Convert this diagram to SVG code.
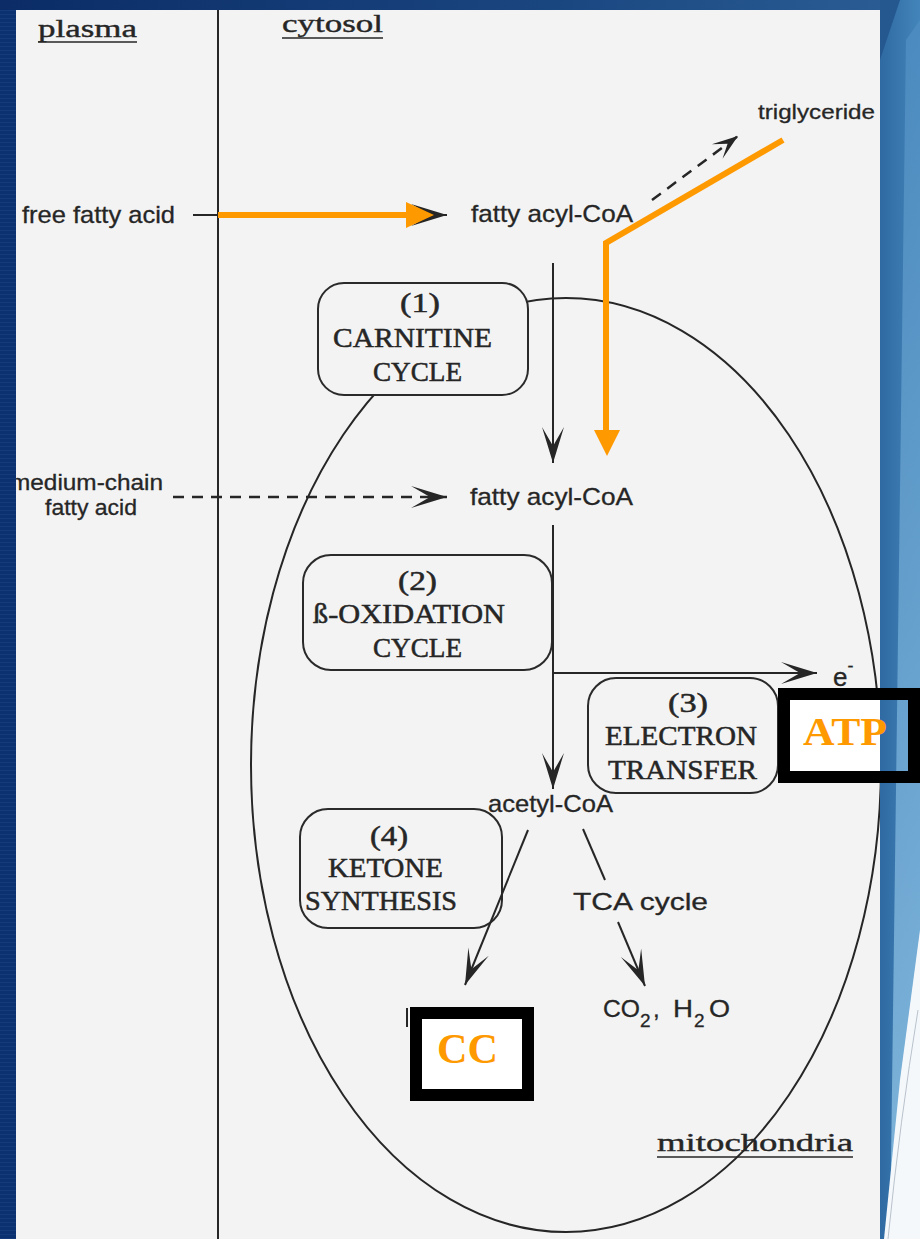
<svg xmlns="http://www.w3.org/2000/svg" width="920" height="1239" viewBox="0 0 920 1239">
<style>
.sans{font-family:"Liberation Sans",Arial,sans-serif;font-size:24px;fill:#262626;stroke:#262626;stroke-width:0.3}
.serif{font-family:"Liberation Serif","Times New Roman",serif;font-size:27px;fill:#262626;stroke:#262626;stroke-width:0.5}
.hdr{font-family:"Liberation Serif","Times New Roman",serif;font-size:26px;fill:#262626;stroke:#262626;stroke-width:0.4}
.box{fill:#f3f3f3;stroke:#2a2a2a;stroke-width:2}
.ln{fill:none;stroke:#262626;stroke-width:2}
.dash{fill:none;stroke:#262626;stroke-width:2.5;stroke-dasharray:11 8}
.or{fill:none;stroke:#FF9900;stroke-width:6}
.orf{fill:#FF9900}
.frame{fill:#ffffff;stroke:#000;stroke-width:12}
.big{font-family:"Liberation Serif","Times New Roman",serif;font-weight:bold;fill:#FF9900}
</style>
<defs>
<linearGradient id="topg" x1="0" y1="0" x2="1" y2="0">
<stop offset="0" stop-color="#0b2c66"/>
<stop offset="0.6" stop-color="#1a4680"/>
<stop offset="1" stop-color="#2c5f96"/>
</linearGradient>
<linearGradient id="rg" x1="0" y1="0" x2="1" y2="0">
<stop offset="0" stop-color="#2f6aa2"/>
<stop offset="1" stop-color="#4385ba"/>
</linearGradient>
<linearGradient id="lg" x1="0" y1="0" x2="0" y2="1">
<stop offset="0" stop-color="#4d8cc0"/>
<stop offset="1" stop-color="#8cc0e3"/>
</linearGradient>
<pattern id="stripe" width="16" height="4" patternUnits="userSpaceOnUse">
<rect width="16" height="4" fill="#0c3170"/>
<rect y="2" width="16" height="1" fill="#153b7b"/>
</pattern>
<marker id="ah" viewBox="-40 -14 42 28" refX="0" refY="0" markerWidth="42" markerHeight="28" markerUnits="userSpaceOnUse" orient="auto">
<path d="M0,0 L-36,-11 L-17,0 L-36,11 Z" fill="#262626"/>
</marker>
<marker id="ah2" viewBox="-30 -11 32 22" refX="0" refY="0" markerWidth="32" markerHeight="22" markerUnits="userSpaceOnUse" orient="auto">
<path d="M0,0 L-26,-9 L-13,0 L-26,9 Z" fill="#262626"/>
</marker>
</defs>

<!-- background frame -->
<rect x="0" y="0" width="920" height="1239" fill="url(#topg)"/>
<rect x="16" y="10" width="864" height="1229" fill="#f3f3f3"/>

<!-- compartments -->
<g id="compartments">
<line class="ln" x1="218" y1="10" x2="218" y2="1239"/>
<text class="hdr" x="38" y="37" textLength="99" lengthAdjust="spacingAndGlyphs">plasma</text>
<line x1="38" y1="42" x2="137" y2="42" stroke="#262626" stroke-width="1.5"/>
<text class="hdr" x="282" y="32" textLength="101" lengthAdjust="spacingAndGlyphs">cytosol</text>
<line x1="282" y1="38" x2="383" y2="38" stroke="#262626" stroke-width="1.5"/>
</g>

<g id="mitochondria">
<ellipse cx="566" cy="765" rx="315" ry="467" class="ln"/>
<text class="hdr" x="657" y="1151" textLength="196" lengthAdjust="spacingAndGlyphs">mitochondria</text>
<line x1="657" y1="1157" x2="853" y2="1157" stroke="#262626" stroke-width="1.5"/>
</g>

<g id="carnitine-cycle">
<rect class="box" x="318" y="283" width="210" height="112" rx="26"/>
<text class="serif" x="400" y="312" textLength="40" lengthAdjust="spacingAndGlyphs">(1)</text>
<text class="serif" x="333" y="347" textLength="159" lengthAdjust="spacingAndGlyphs">CARNITINE</text>
<text class="serif" x="373" y="381" textLength="89" lengthAdjust="spacingAndGlyphs">CYCLE</text>
</g>

<g id="beta-oxidation">
<rect class="box" x="303" y="555" width="249" height="115" rx="28"/>
<text class="serif" x="398" y="590" textLength="39" lengthAdjust="spacingAndGlyphs">(2)</text>
<text class="serif" x="313" y="623" textLength="192" lengthAdjust="spacingAndGlyphs">ß-OXIDATION</text>
<text class="serif" x="373" y="657" textLength="89" lengthAdjust="spacingAndGlyphs">CYCLE</text>
</g>

<g id="electron-transfer">
<rect class="box" x="588" y="678" width="190" height="115" rx="28"/>
<text class="serif" x="668" y="712" textLength="40" lengthAdjust="spacingAndGlyphs">(3)</text>
<text class="serif" x="605" y="745" textLength="152" lengthAdjust="spacingAndGlyphs">ELECTRON</text>
<text class="serif" x="608" y="779" textLength="149" lengthAdjust="spacingAndGlyphs">TRANSFER</text>
</g>

<g id="ketone-synthesis">
<rect class="box" x="300" y="809" width="202" height="119" rx="28"/>
<text class="serif" x="370" y="845" textLength="38" lengthAdjust="spacingAndGlyphs">(4)</text>
<text class="serif" x="328" y="877" textLength="115" lengthAdjust="spacingAndGlyphs">KETONE</text>
<text class="serif" x="305" y="910" textLength="152" lengthAdjust="spacingAndGlyphs">SYNTHESIS</text>
</g>

<g id="free-fatty-acid">
<text class="sans" x="22" y="223" textLength="153" lengthAdjust="spacingAndGlyphs">free fatty acid</text>
</g>
<g id="fatty-acyl-coa-cytosol">
<text class="sans" x="471" y="222" textLength="162" lengthAdjust="spacingAndGlyphs">fatty acyl-CoA</text>
</g>
<g id="triglyceride">
<text class="sans" x="758" y="119" textLength="117" lengthAdjust="spacingAndGlyphs" style="font-size:21px">triglyceride</text>
</g>
<g id="medium-chain-fatty-acid">
<text class="sans" x="10" y="490" textLength="153" lengthAdjust="spacingAndGlyphs" style="font-size:22px">medium-chain</text>
<text class="sans" x="45" y="515" textLength="92" lengthAdjust="spacingAndGlyphs" style="font-size:22px">fatty acid</text>
</g>
<g id="fatty-acyl-coa-mito">
<text class="sans" x="470" y="505" textLength="163" lengthAdjust="spacingAndGlyphs">fatty acyl-CoA</text>
</g>
<g id="electrons">
<text class="sans" x="833" y="686" style="font-size:26px">e<tspan dy="-14" font-size="18">-</tspan></text>
</g>
<g id="acetyl-coa">
<text class="sans" x="488" y="812" textLength="125" lengthAdjust="spacingAndGlyphs">acetyl-CoA</text>
</g>
<g id="tca-cycle">
<text class="sans" x="573" y="910" textLength="135" lengthAdjust="spacingAndGlyphs">TCA cycle</text>
</g>
<g id="co2-h2o">
<text class="sans" x="603" y="1017" textLength="37" lengthAdjust="spacingAndGlyphs">CO</text>
<text class="sans" x="640" y="1027" style="font-size:19px">2</text>
<text class="sans" x="653" y="1017">,</text>
<text class="sans" x="673" y="1017" textLength="20" lengthAdjust="spacingAndGlyphs">H</text>
<text class="sans" x="694" y="1027" style="font-size:19px">2</text>
<text class="sans" x="709" y="1017" textLength="21" lengthAdjust="spacingAndGlyphs">O</text>
</g>

<g id="connectors">
<line class="ln" x1="193" y1="215" x2="447" y2="215" marker-end="url(#ah)"/>
<line class="dash" x1="652" y1="200" x2="738" y2="136" marker-end="url(#ah2)"/>
<line class="ln" x1="553" y1="263" x2="553" y2="463" marker-end="url(#ah)"/>
<line class="dash" x1="173" y1="497" x2="447" y2="497" marker-end="url(#ah)"/>
<line class="ln" x1="553" y1="525" x2="553" y2="789" marker-end="url(#ah)"/>
<line class="ln" x1="553" y1="673" x2="817" y2="673" marker-end="url(#ah)"/>
<line class="ln" x1="528" y1="830" x2="465" y2="985" marker-end="url(#ah)"/>
<line class="ln" x1="583" y1="829" x2="605" y2="880"/>
<line class="ln" x1="618" y1="922" x2="645" y2="986" marker-end="url(#ah)"/>
<line x1="407" y1="1008" x2="407" y2="1027" stroke="#262626" stroke-width="2"/>
<!-- orange highlight arrows -->
<line class="or" x1="218" y1="215" x2="410" y2="215"/>
<polygon class="orf" points="406,202 434,215 406,228"/>
<polyline class="or" points="783,140 606,243 606,432"/>
<polygon class="orf" points="594,430 620,430 607,456"/>
</g>

<!-- slide decoration -->
<rect x="0" y="10" width="16" height="1229" fill="url(#stripe)"/>
<rect x="784" y="694" width="130" height="83" fill="#ffffff"/>
<rect x="880" y="0" width="40" height="1239" fill="url(#rg)"/>
<polygon points="880,0 900,0 880,60" fill="#24588f"/>
<polygon points="906,40 920,20 920,1000 896,1239 890,1239" fill="url(#lg)" opacity="0.85"/>
<polygon points="920,930 920,1239 884,1239 900,1080" fill="#f5f8fb"/>
<path d="M918,1010 Q900,1120 888,1239" fill="none" stroke="#b8c2cc" stroke-width="1"/>

<g id="atp-label">
<rect x="784" y="694" width="130" height="83" fill="none" stroke="#000" stroke-width="12"/>
<text class="big" x="803" y="745" textLength="84" lengthAdjust="spacingAndGlyphs" style="font-size:40px">ATP</text>
</g>
<g id="cc-label">
<rect class="frame" x="416" y="1013" width="112" height="82"/>
<text class="big" x="437" y="1063" textLength="61" lengthAdjust="spacingAndGlyphs" style="font-size:42px">CC</text>
</g>
</svg>
